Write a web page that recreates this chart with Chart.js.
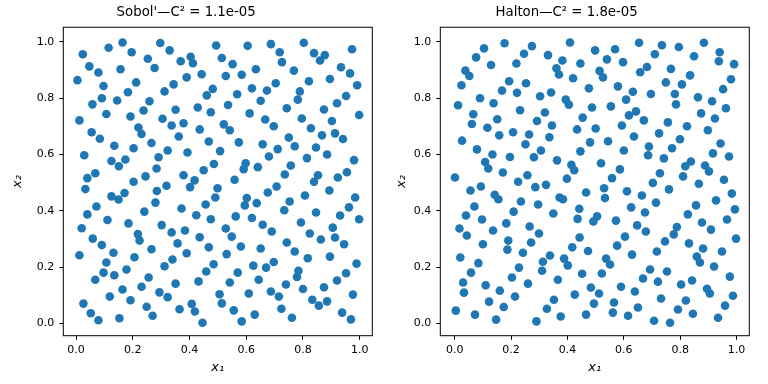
<!DOCTYPE html>
<html>
<head>
<meta charset="utf-8">
<script src="https://cdn.jsdelivr.net/npm/chart.js@4.4.1/dist/chart.umd.min.js"></script>
<style>
  html, body { margin: 0; padding: 0; background: #fff; }
  #wrap { display: flex; width: 768px; height: 384px; }
  canvas { display: block; }
</style>
</head>
<body>
<div id="wrap">
  <canvas id="sobolChart" width="384" height="384"></canvas>
  <canvas id="haltonChart" width="384" height="384"></canvas>
</div>
<script>
// Sobol' sample (256 points)
const sobolX = [
  0.164, 0.115, 0.024, 0.196, 0.297, 0.330, 0.253, 0.369, 0.404, 0.412, 0.494, 0.047, 0.079, 0.157, 0.277, 0.005,
  0.097, 0.212, 0.344, 0.390, 0.443, 0.312, 0.183, 0.482, 0.461, 0.091, 0.058, 0.145, 0.259, 0.107, 0.238, 0.351,
  0.429, 0.475, 0.192, 0.305, 0.012, 0.337, 0.379, 0.220, 0.231, 0.055, 0.084, 0.362, 0.436, 0.266, 0.135, 0.203,
  0.468, 0.323, 0.393, 0.029, 0.291, 0.125, 0.174, 0.151, 0.284, 0.486, 0.450, 0.068, 0.040, 0.245, 0.379, 0.418,
  0.203,
  0.514, 0.605, 0.687, 0.718, 0.803, 0.839, 0.877, 0.860, 0.973, 0.552, 0.726, 0.634, 0.768, 0.934, 0.966, 0.528,
  0.584, 0.895, 0.821, 0.704, 0.991, 0.620, 0.673, 0.789, 0.782, 0.568, 0.651, 0.952, 0.920, 0.536, 0.743, 0.874,
  0.612, 0.998, 0.796, 0.902, 0.667, 0.697, 0.521, 0.542, 0.828, 0.867, 0.913, 0.941, 0.750, 0.574, 0.658, 0.771,
  0.846, 0.508, 0.711, 0.680, 0.885, 0.814, 0.980, 0.598, 0.591, 0.641, 0.757, 0.736, 0.853, 0.839, 0.955, 0.923,
  0.559,
  0.033, 0.125, 0.150, 0.171, 0.285, 0.319, 0.402, 0.072, 0.040, 0.280, 0.241, 0.372, 0.457, 0.491, 0.499, 0.424,
  0.475, 0.111, 0.185, 0.302, 0.020, 0.218, 0.224, 0.337, 0.384, 0.436, 0.059, 0.091, 0.358, 0.468, 0.266, 0.132,
  0.012, 0.390, 0.206, 0.340, 0.107, 0.312, 0.485, 0.459, 0.178, 0.097, 0.135, 0.068, 0.256, 0.432, 0.351, 0.231,
  0.164, 0.294, 0.323, 0.119, 0.192, 0.026, 0.249, 0.408, 0.419, 0.365, 0.052, 0.079, 0.153, 0.270, 0.446,
  0.676, 0.707, 0.893, 0.602, 0.595, 0.637, 0.753, 0.734, 0.807, 0.984, 0.962, 0.846, 0.931, 0.998, 0.563, 0.620,
  0.658, 0.528, 0.690, 0.793, 0.905, 0.549, 0.824, 0.863, 0.913, 0.945, 0.743, 0.581, 0.651, 0.771, 0.531, 0.895,
  0.817, 0.697, 0.625, 0.670, 0.989, 0.784, 0.779, 0.570, 0.952, 0.920, 0.644, 0.542, 0.740, 0.874, 0.800, 0.506,
  0.514, 0.609, 0.687, 0.715, 0.976, 0.833, 0.885, 0.856, 0.724, 0.556, 0.630, 0.938, 0.584, 0.761, 0.969
];
const sobolY = [
  0.998, 0.979, 0.956, 0.963, 0.996, 0.970, 0.940, 0.931, 0.947, 0.924, 0.987, 0.913, 0.891, 0.903, 0.907, 0.864,
  0.843, 0.856, 0.849, 0.874, 0.885, 0.824, 0.821, 0.833, 0.810, 0.800, 0.778, 0.792, 0.789, 0.744, 0.756, 0.759,
  0.767, 0.750, 0.735, 0.727, 0.721, 0.703, 0.711, 0.696, 0.673, 0.679, 0.656, 0.664, 0.689, 0.641, 0.631, 0.622,
  0.646, 0.614, 0.607, 0.597, 0.590, 0.577, 0.582, 0.558, 0.550, 0.566, 0.544, 0.533, 0.516, 0.522, 0.526, 0.508,
  0.503,
  0.943, 0.986, 0.992, 0.963, 0.997, 0.960, 0.953, 0.934, 0.974, 0.921, 0.928, 0.903, 0.898, 0.910, 0.888, 0.879,
  0.883, 0.868, 0.860, 0.853, 0.846, 0.835, 0.827, 0.824, 0.795, 0.814, 0.791, 0.808, 0.782, 0.776, 0.764, 0.760,
  0.746, 0.740, 0.728, 0.719, 0.724, 0.700, 0.707, 0.686, 0.693, 0.668, 0.675, 0.655, 0.660, 0.643, 0.636, 0.629,
  0.625, 0.612, 0.619, 0.593, 0.600, 0.587, 0.580, 0.569, 0.548, 0.555, 0.561, 0.529, 0.526, 0.503, 0.537, 0.518,
  0.510,
  0.477, 0.451, 0.440, 0.463, 0.470, 0.489, 0.484, 0.415, 0.387, 0.429, 0.397, 0.408, 0.422, 0.447, 0.480, 0.384,
  0.370, 0.367, 0.355, 0.349, 0.338, 0.317, 0.294, 0.323, 0.330, 0.306, 0.301, 0.278, 0.284, 0.270, 0.263, 0.251,
  0.242, 0.249, 0.235, 0.227, 0.216, 0.203, 0.210, 0.184, 0.191, 0.180, 0.171, 0.155, 0.163, 0.149, 0.141, 0.130,
  0.120, 0.110, 0.093, 0.095, 0.082, 0.070, 0.059, 0.069, 0.042, 0.050, 0.036, 0.011, 0.018, 0.027, 0.002,
  0.465, 0.486, 0.472, 0.445, 0.419, 0.427, 0.433, 0.402, 0.454, 0.447, 0.412, 0.394, 0.383, 0.370, 0.380, 0.374,
  0.350, 0.337, 0.326, 0.358, 0.340, 0.308, 0.319, 0.298, 0.305, 0.281, 0.287, 0.273, 0.266, 0.255, 0.246, 0.237,
  0.231, 0.218, 0.205, 0.198, 0.212, 0.187, 0.165, 0.180, 0.178, 0.152, 0.155, 0.145, 0.138, 0.128, 0.122, 0.103,
  0.071, 0.106, 0.113, 0.095, 0.102, 0.084, 0.078, 0.063, 0.052, 0.046, 0.031, 0.038, 0.007, 0.020, 0.014
];

// Halton sample (256 points)
const haltonX = [
  0.177, 0.104, 0.076, 0.129, 0.038, 0.052, 0.024, 0.012, 0.090, 0.066, 0.061, 0.138, 0.116, 0.151, 0.026, 0.158,
  0.079, 0.134, 0.108, 0.119, 0.001, 0.171, 0.196, 0.207, 0.168, 0.193, 0.221, 0.219, 0.246, 0.274, 0.253, 0.232,
  0.264, 0.251, 0.281, 0.258, 0.225, 0.292, 0.306, 0.320, 0.303, 0.342, 0.331, 0.382, 0.361, 0.370, 0.420, 0.409,
  0.446, 0.394, 0.405, 0.345, 0.336, 0.434, 0.454, 0.446, 0.363, 0.414, 0.424, 0.398,
  0.498, 0.569, 0.654, 0.540, 0.597, 0.735, 0.710, 0.795, 0.884, 0.849, 0.940, 0.937, 0.991, 0.682, 0.658, 0.767,
  0.514, 0.526, 0.835, 0.749, 0.806, 0.980, 0.476, 0.579, 0.632, 0.696, 0.781, 0.952, 0.863, 0.608, 0.913, 0.785,
  0.487, 0.554, 0.962, 0.643, 0.618, 0.874, 0.671, 0.923, 0.593, 0.756, 0.824, 0.500, 0.898, 0.725, 0.636, 0.799,
  0.480, 0.544, 0.943, 0.689, 0.600, 0.771, 0.686, 0.916, 0.973, 0.742, 0.838, 0.818, 0.888, 0.902, 0.519, 0.586,
  0.558, 0.728, 0.810, 0.955, 0.703, 0.866,
  0.056, 0.093, 0.142, 0.155, 0.286, 0.324, 0.070, 0.040, 0.017, 0.043, 0.097, 0.136, 0.100, 0.183, 0.209, 0.235,
  0.296, 0.350, 0.372, 0.384, 0.442, 0.436, 0.266, 0.299, 0.190, 0.187, 0.242, 0.271, 0.020, 0.084, 0.058, 0.030,
  0.033, 0.110, 0.160, 0.122, 0.203, 0.228, 0.313, 0.338, 0.310, 0.388, 0.401, 0.443, 0.417, 0.452, 0.260, 0.214,
  0.174, 0.366, 0.352, 0.327, 0.376, 0.426, 0.004, 0.072, 0.147, 0.290,
  0.466, 0.530, 0.533, 0.611, 0.664, 0.760, 0.983, 0.927, 0.714, 0.626, 0.675, 0.856, 0.827, 0.994, 0.505, 0.492,
  0.572, 0.647, 0.678, 0.788, 0.777, 0.877, 0.909, 0.966, 0.998, 0.604, 0.746, 0.831, 0.576, 0.473, 0.629, 0.717,
  0.881, 0.948, 0.859, 0.870, 0.537, 0.551, 0.920, 0.522, 0.693, 0.753, 0.668, 0.721, 0.803, 0.842, 0.976, 0.483,
  0.512, 0.590, 0.639, 0.895, 0.905, 0.987, 0.732, 0.494, 0.565, 0.820, 0.650, 0.959, 0.466, 0.561, 0.615, 0.792,
  0.845, 0.707, 0.764, 0.934
];
const haltonY = [
  0.995, 0.977, 0.945, 0.918, 0.898, 0.879, 0.846, 0.775, 0.800, 0.743, 0.708, 0.782, 0.695, 0.725, 0.649, 0.668,
  0.618, 0.600, 0.573, 0.550, 0.518, 0.536, 0.591, 0.679, 0.827, 0.860, 0.819, 0.923, 0.958, 0.985, 0.853, 0.757,
  0.671, 0.636, 0.590, 0.526, 0.503, 0.719, 0.614, 0.749, 0.807, 0.820, 0.953, 0.934, 0.906, 0.884, 0.871, 0.998,
  0.923, 0.795, 0.777, 0.703, 0.661, 0.689, 0.731, 0.611, 0.579, 0.563, 0.544, 0.514,
  0.970, 0.974, 0.997, 0.938, 0.928, 0.988, 0.956, 0.982, 0.997, 0.949, 0.963, 0.931, 0.921, 0.911, 0.892, 0.904,
  0.897, 0.874, 0.881, 0.856, 0.849, 0.867, 0.835, 0.842, 0.823, 0.815, 0.815, 0.832, 0.803, 0.795, 0.789, 0.778,
  0.767, 0.771, 0.764, 0.753, 0.739, 0.746, 0.721, 0.728, 0.703, 0.714, 0.700, 0.692, 0.686, 0.675, 0.664, 0.654,
  0.643, 0.647, 0.639, 0.628, 0.614, 0.622, 0.597, 0.604, 0.593, 0.586, 0.575, 0.558, 0.561, 0.540, 0.569, 0.547,
  0.516, 0.533, 0.522, 0.510, 0.499, 0.496,
  0.472, 0.486, 0.457, 0.441, 0.484, 0.492, 0.415, 0.383, 0.337, 0.312, 0.369, 0.330, 0.281, 0.355, 0.397, 0.433,
  0.422, 0.390, 0.447, 0.441, 0.407, 0.371, 0.344, 0.319, 0.294, 0.262, 0.251, 0.287, 0.234, 0.214, 0.180, 0.145,
  0.109, 0.135, 0.116, 0.077, 0.163, 0.198, 0.219, 0.241, 0.187, 0.230, 0.206, 0.305, 0.270, 0.176, 0.141, 0.095,
  0.058, 0.155, 0.084, 0.052, 0.024, 0.102, 0.045, 0.031, 0.013, 0.007,
  0.465, 0.480, 0.445, 0.469, 0.454, 0.476, 0.461, 0.437, 0.429, 0.412, 0.394, 0.419, 0.387, 0.405, 0.380, 0.362,
  0.365, 0.348, 0.326, 0.342, 0.316, 0.358, 0.333, 0.369, 0.301, 0.308, 0.291, 0.284, 0.276, 0.257, 0.244, 0.255,
  0.266, 0.255, 0.237, 0.216, 0.230, 0.209, 0.202, 0.177, 0.191, 0.184, 0.159, 0.148, 0.138, 0.152, 0.166, 0.127,
  0.106, 0.130, 0.113, 0.123, 0.106, 0.098, 0.088, 0.070, 0.074, 0.081, 0.056, 0.063, 0.031, 0.038, 0.027, 0.049,
  0.034, 0.009, 0.002, 0.020
];

const tickValues = [0.0, 0.2, 0.4, 0.6, 0.8, 1.0];
const sobolTitle = "Sobol'\u2014C\u00b2 = 1.1e-05";
const haltonTitle = 'Halton\u2014C\u00b2 = 1.8e-05';
const xLabel = 'x\u2081';
const yLabel = 'x\u2082';

Chart.defaults.font.family = "'DejaVu Sans', sans-serif";
Chart.defaults.color = '#000';

// full box around the plot area, like matplotlib spines
const frame = {
  id: 'frame',
  afterDraw(chart) {
    const a = chart.chartArea, ctx = chart.ctx;
    ctx.save();
    ctx.strokeStyle = '#000';
    ctx.lineWidth = 1;
    ctx.strokeRect(a.left, a.top, a.right - a.left, a.bottom - a.top);
    ctx.restore();
  }
};

function makeChart(id, title, xs, ys, yAxisWidth, padRight, xMin, xMax) {
  const ctx = document.getElementById(id).getContext('2d');
  return new Chart(ctx, {
    type: 'scatter',
    data: {
      datasets: [{
        data: xs.map((x, i) => ({ x: x, y: ys[i] })),
        backgroundColor: '#1f77b4',
        borderWidth: 0,
        pointRadius: 4.3,
        pointHoverRadius: 4.3
      }]
    },
    options: {
      responsive: false,
      animation: false,
      layout: { padding: { left: 0, right: padRight, top: 0, bottom: 0 } },
      plugins: {
        legend: { display: false },
        tooltip: { enabled: false },
        title: {
          display: true,
          text: title,
          font: { size: 13.3, weight: 'normal' },
          padding: { top: 5, bottom: 6.3 }
        }
      },
      scales: {
        x: {
          type: 'linear',
          min: xMin,
          max: xMax,
          afterBuildTicks: s => { s.ticks = tickValues.map(v => ({ value: v })); },
          afterFit: s => { s.height = 48.3; },
          ticks: { callback: v => v.toFixed(1), font: { size: 11 }, padding: 4, maxRotation: 0 },
          grid: { drawOnChartArea: false, drawTicks: true, tickLength: 4, color: '#000' },
          border: { display: false },
          title: { display: true, text: xLabel, font: { size: 13, style: 'italic' }, padding: { top: 0, bottom: 8.2 } }
        },
        y: {
          type: 'linear',
          min: -0.044,
          max: 1.052,
          afterBuildTicks: s => { s.ticks = tickValues.map(v => ({ value: v })); },
          afterFit: s => { s.width = yAxisWidth; },
          ticks: { callback: v => v.toFixed(1), font: { size: 11 }, padding: 5 },
          grid: { drawOnChartArea: false, drawTicks: true, tickLength: 4, color: '#000' },
          border: { display: false },
          title: { display: true, text: yLabel, font: { size: 13, style: 'italic' }, padding: { top: 10.2, bottom: 0 } }
        }
      }
    },
    plugins: [frame]
  });
}

const sobolChart = makeChart('sobolChart', sobolTitle, sobolX, sobolY, 63.3, 11.7, -0.0448, 1.0444);
const haltonChart = makeChart('haltonChart', haltonTitle, haltonX, haltonY, 56.3, 18.7, -0.051, 1.045);
</script>
</body>
</html>
